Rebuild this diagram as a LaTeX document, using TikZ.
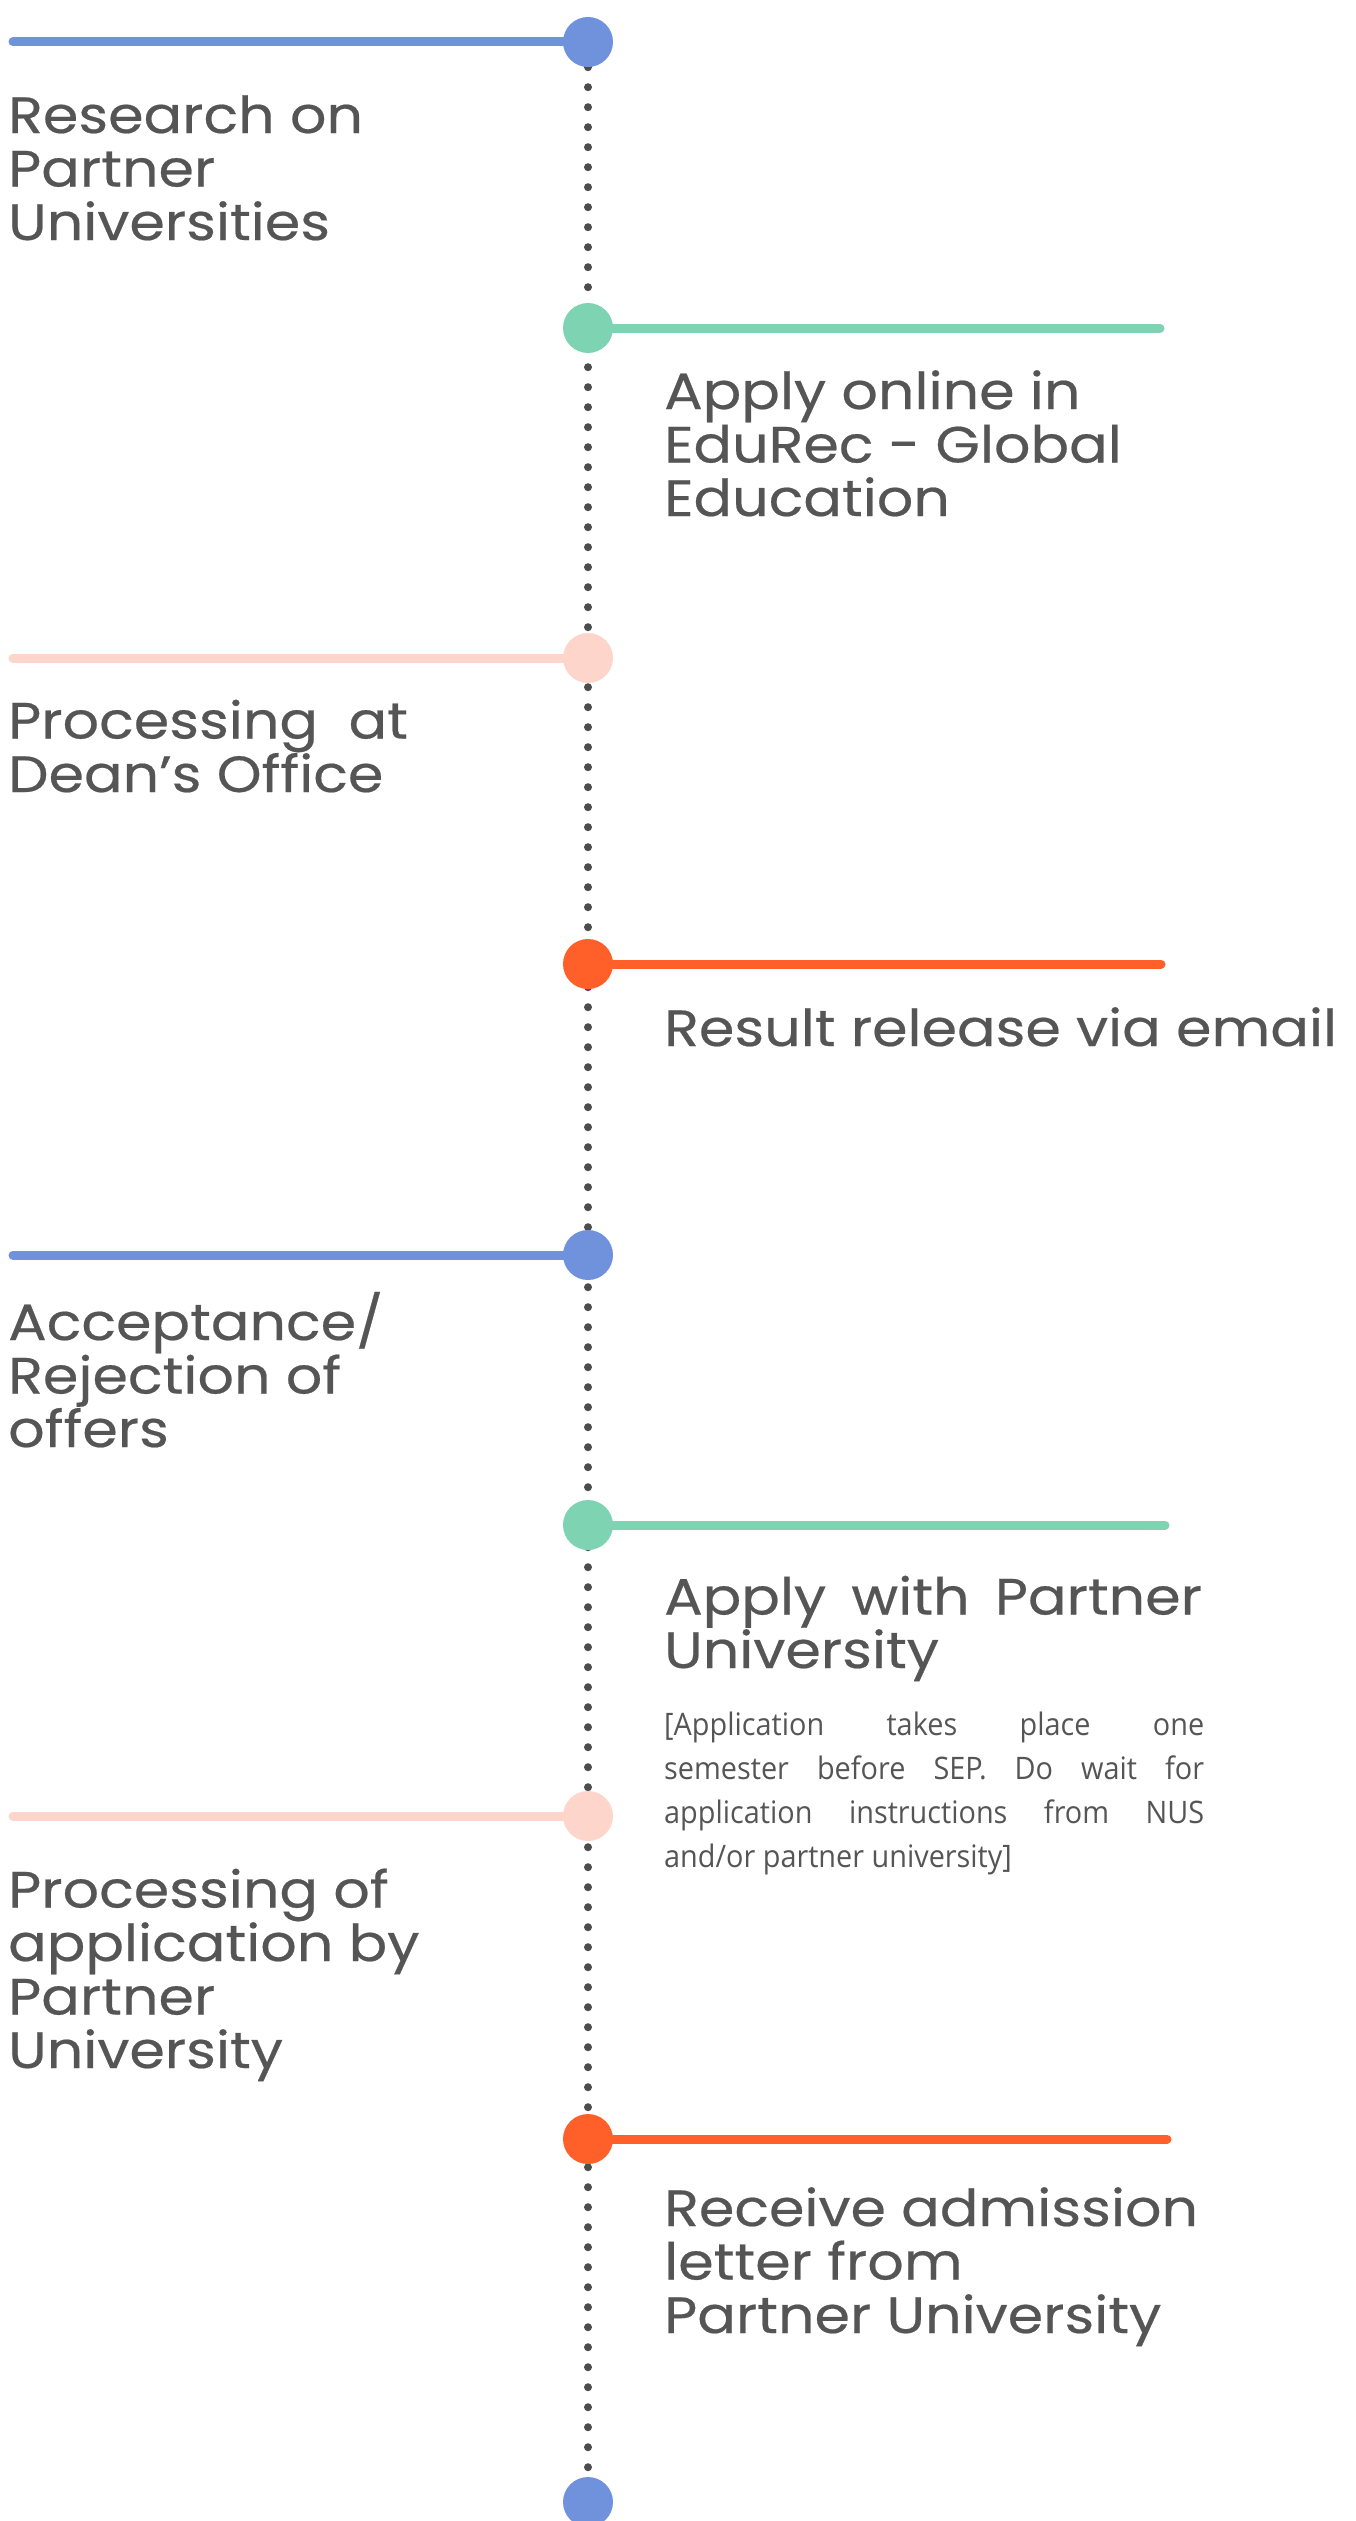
\documentclass[tikz,border=0pt]{standalone}
\usepackage{fontspec}
\setmainfont{Poppins}[FakeStretch=1.12, FakeBold=0.4]
\newfontfamily\notefont{Open Sans}[FakeStretch=0.93]
\usetikzlibrary{positioning, backgrounds}

\definecolor{stepblue}{HTML}{7092DC}
\definecolor{stepgreen}{HTML}{7DD3B2}
\definecolor{steppink}{HTML}{FDD5CB}
\definecolor{steporange}{HTML}{FF5F28}
\definecolor{textgray}{HTML}{555555}
\definecolor{dotgray}{HTML}{4D4D4D}

\begin{document}
\begin{tikzpicture}[x=1pt, y=-1pt,
  bullet/.style={circle, fill=#1, minimum size=50pt, inner sep=0pt},
  bar/.style={draw=#1, line width=9pt, line cap=round},
  steptext/.style={anchor=base west, align=left, inner sep=0pt, text=textgray, font=\fontsize{51}{53.5}\selectfont},
  notetext/.style={anchor=base west, align=justify, text width=540pt, inner sep=0pt, text=textgray, font=\notefont\fontsize{31}{44}\selectfont},
  dotline/.style={draw=dotgray, line width=8pt, line cap=round, dash pattern=on 0pt off 20pt}]

	\useasboundingbox (0,0) rectangle (1355,2521);

	% Step 1 (text nodes sit on their last line)
	\node[bullet=stepblue] (s1) at (588,42) {};
	\coordinate (b1) at (13,42);
	\node[steptext] (t1) at (8,240) {Research on\\Partner\\Universities};

	% Step 2
	\node[bullet=stepgreen] (s2) at (588,328) {};
	\coordinate (b2) at (1160,328);
	\node[steptext] (t2) at (664,516) {Apply online in\\EduRec - Global\\Education};

	% Step 3
	\node[bullet=steppink] (s3) at (588,658) {};
	\coordinate (b3) at (13,658);
	\node[steptext] (t3) at (8,792) {Processing~ at\\Dean's Office};

	% Step 4
	\node[bullet=steporange] (s4) at (588,964) {};
	\coordinate (b4) at (1161,964);
	\node[steptext] (t4) at (664,1046) {Result release via email};

	% Step 5
	\node[bullet=stepblue] (s5) at (588,1255) {};
	\coordinate (b5) at (13,1255);
	\node[steptext] (t5) at (8,1447) {Acceptance/\\Rejection of\\offers};

	% Step 6 (note sits on its first line)
	\node[bullet=stepgreen] (s6) at (588,1525) {};
	\coordinate (b6) at (1165,1525);
	\node[steptext] (t6) at (664,1668) {Apply\hspace{10pt} with\hspace{10pt} Partner\\University};
	\node[notetext] (n6) at (664,1735) {[Application takes place one\linebreak semester before SEP. Do wait for\linebreak application instructions from NUS\linebreak and/or partner university]};

	% Step 7
	\node[bullet=steppink] (s7) at (588,1816) {};
	\coordinate (b7) at (13,1816);
	\node[steptext] (t7) at (8,2068) {Processing of\\application by\\Partner\\University};

	% Step 8
	\node[bullet=steporange] (s8) at (588,2139) {};
	\coordinate (b8) at (1167,2139);
	\node[steptext] (t8) at (664,2333) {Receive admission\\letter from\\Partner University};

	% End
	\node[bullet=stepblue] (s9) at (588,2502) {};

	% Bars
	\draw[bar=stepblue] (s1) -- (b1);
	\draw[bar=stepgreen] (s2) -- (b2);
	\draw[bar=steppink] (s3) -- (b3);
	\draw[bar=steporange] (s4) -- (b4);
	\draw[bar=stepblue] (s5) -- (b5);
	\draw[bar=stepgreen] (s6) -- (b6);
	\draw[bar=steppink] (s7) -- (b7);
	\draw[bar=steporange] (s8) -- (b8);

	% Timeline
	\begin{scope}[on background layer]
		\draw[dotline] (s1) -- (s9);
	\end{scope}

\end{tikzpicture}
\end{document}
